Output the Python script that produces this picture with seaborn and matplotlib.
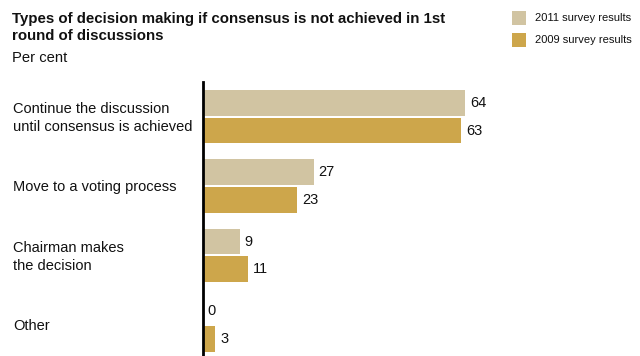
import matplotlib
matplotlib.use("Agg")
import matplotlib.pyplot as plt
import matplotlib.transforms as mtransforms
from matplotlib.patches import Rectangle
import seaborn as sns
import pandas as pd

# Survey data (per cent)
categories = [
    "Continue the discussion\nuntil consensus is achieved",
    "Move to a voting process",
    "Chairman makes\nthe decision",
    "Other",
]
series_names = ["2011 survey results", "2009 survey results"]
values_2011 = [64, 27, 9, 0]
values_2009 = [63, 23, 11, 3]
palette = ["#d1c4a2", "#cda64b"]

df = pd.DataFrame({
    "category": categories * 2,
    "survey": [series_names[0]] * len(categories) + [series_names[1]] * len(categories),
    "value": values_2011 + values_2009,
})

sns.set_theme(style="white")
plt.rcParams["font.family"] = ["Liberation Sans", "DejaVu Sans"]

W, H = 640, 356
fig = plt.figure(figsize=(W / 100, H / 100), dpi=100)
ax = fig.add_axes([203 / W, 0, 1 - 203 / W, 1 - 82 / H])

sns.barplot(
    data=df, y="category", x="value", hue="survey",
    order=categories, hue_order=series_names, palette=palette,
    orient="h", width=0.8, gap=0.07, saturation=1,
    edgecolor="none", linewidth=0, legend=False, ax=ax,
)

ax.set_xlim(0, (W - 203) / 4.1)
ax.set_ylim(3.45, -0.5)
ax.set_xlabel("")
ax.set_ylabel("")
ax.set_xticks([])
ax.set_yticks([])
for side in ["top", "right", "bottom"]:
    ax.spines[side].set_visible(False)
ax.spines["left"].set_color("black")
ax.spines["left"].set_linewidth(2)

# Value labels at bar ends
for container in ax.containers:
    ax.bar_label(container, fmt="%g", padding=3.5, fontsize=10.5, color="#111111")

# Category labels, left aligned at the figure edge
trans = mtransforms.blended_transform_factory(fig.transFigure, ax.transData)
for i, cat in enumerate(categories):
    fig.text(13 / W, i + 0.02, cat, transform=trans, ha="left", va="center",
             fontsize=10.5, color="#111111", linespacing=1.35)

# Title block
fig.text(12 / W, 1 - 12 / H, "Types of decision making if consensus is not achieved in 1st\nround of discussions",
         ha="left", va="top", fontsize=10.8, fontweight="bold", color="#111111", linespacing=1.3)
fig.text(12 / W, 1 - 51 / H, "Per cent", ha="left", va="top", fontsize=10.6, color="#111111")

# Legend
for j, name in enumerate(series_names):
    y0 = 11 + j * 22
    fig.patches.append(Rectangle((512 / W, 1 - (y0 + 14) / H), 14 / W, 14 / H,
                                 transform=fig.transFigure, facecolor=palette[j],
                                 edgecolor="none"))
    fig.text(535 / W, 1 - (y0 + 7) / H, name, ha="left", va="center",
             fontsize=8.0, color="#111111")

fig.savefig("out.png", dpi=100)
